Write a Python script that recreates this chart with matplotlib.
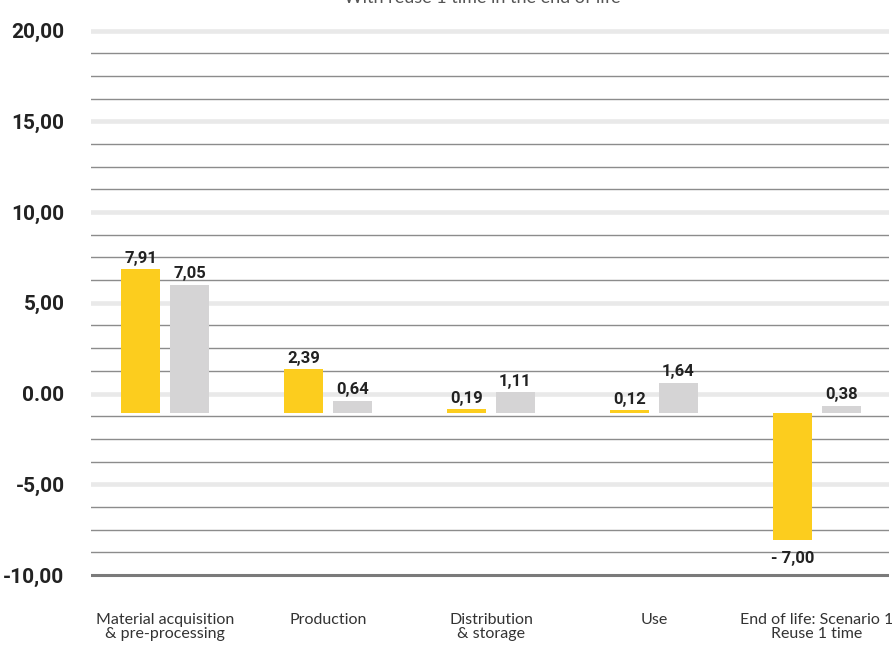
import matplotlib
matplotlib.use("Agg")
import matplotlib.pyplot as plt
import numpy as np

categories = ["Material acquisition\n& pre-processing", "Production",
              "Distribution\n& storage", "Use", "End of life: Scenario 1\nReuse 1 time"]
series_yellow = [7.91, 2.39, 0.19, 0.12, -7.00]
series_gray = [7.05, 0.64, 1.11, 1.64, 0.38]
major_ticks = [-10, -5, 0, 5, 10, 15, 20]
major_labels = ["-10,00", "-5,00", "0.00", "5,00", "10,00", "15,00", "20,00"]
title = "With reuse 1 time in the end of life"

BAR_BASE = -1.05  # visual baseline of the bars in the original chart

W, H = 892, 645
fig = plt.figure(figsize=(W / 100, H / 100), dpi=100)
ax = fig.add_axes([91 / W, (H - 580) / H, (889 - 91) / W, (580 - 25) / H])
ax.set_ylim(-10.276, 20.309)
ax.set_xlim(-74 / 163, 724 / 163)
for s in ax.spines.values():
    s.set_visible(False)

# grid lines
minor = [v for v in np.arange(-10, 20.01, 1.25) if abs(v / 5 - round(v / 5)) > 1e-6]
for v in minor:
    ax.axhline(v, color="#8c8c8c", lw=1.0, zorder=0)
for v in major_ticks[1:]:
    ax.axhline(v, color="#e9e9e9", lw=3.3, zorder=0)
ax.axhline(-10, color="#7a7a7a", lw=2.2, zorder=0)

x = np.arange(len(categories))
off = 24.5 / 163
bw = 39 / 163
ax.bar(x - off, series_yellow, width=bw, bottom=BAR_BASE, color="#FCCD1E", zorder=2)
ax.bar(x + off, series_gray, width=bw, bottom=BAR_BASE, color="#D5D4D5", zorder=2)

NUMFAM = ["Roboto", "DejaVu Sans"]
numfont = dict(family=NUMFAM, fontweight="bold", fontsize=12, color="#222222")


def fmt(v):
    s = f"{abs(v):.2f}".replace(".", ",")
    return ("- " + s) if v < 0 else s


for xs, vals in ((x - off, series_yellow), (x + off, series_gray)):
    for xi, v in zip(xs, vals):
        if v >= 0:
            ax.annotate(fmt(v), (xi, BAR_BASE + v), xytext=(0, 2.5), textcoords="offset points",
                        ha="center", va="bottom", **numfont)
        else:
            ax.annotate(fmt(v), (xi, BAR_BASE + v), xytext=(0, -8), textcoords="offset points",
                        ha="center", va="top", **numfont)

ax.set_yticks(major_ticks)
ax.set_yticklabels(major_labels)
ax.tick_params(axis="y", length=0, pad=19)
for t in ax.get_yticklabels():
    t.set_fontfamily(NUMFAM)
    t.set_fontweight("bold")
    t.set_fontsize(15)
    t.set_color("#222222")

ax.set_xticks(x)
ax.set_xticklabels(categories, family=["Lato", "DejaVu Sans"], fontsize=11.5,
                   color="#333333", linespacing=1.0)
ax.tick_params(axis="x", length=0, pad=24)

fig.text(482 / W, 1 - 3 / H, title, ha="center", va="baseline", fontsize=13,
         color="#555555", family=["Lato", "DejaVu Sans"])

fig.savefig("out.png", dpi=100)
